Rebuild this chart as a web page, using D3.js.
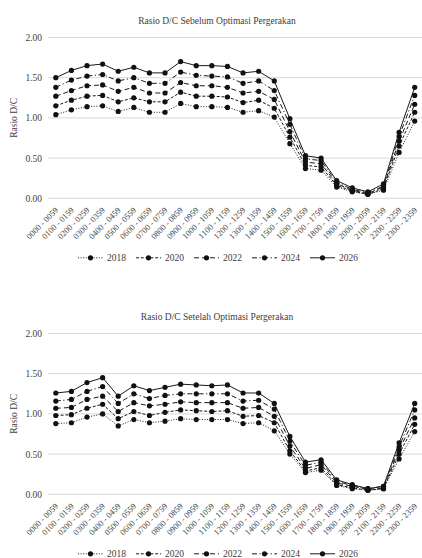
<!DOCTYPE html>
<html>
<head>
<meta charset="utf-8">
<script src="https://cdn.jsdelivr.net/npm/d3@7/dist/d3.min.js"></script>
<style>
  html, body { margin: 0; padding: 0; background: #fff; }
  svg { display: block; }
  svg text { font-family: "Liberation Serif", "Times New Roman", "DejaVu Serif", serif !important; fill: #404040; }
</style>
</head>
<body>
<svg id="chart" width="422" height="558"></svg>
<script>
// Hourly intervals on the x axis
const hours = ["0000 - 0059","0100 - 0159","0200 - 0259","0300 - 0359","0400 - 0459","0500 - 0559",
  "0600 - 0659","0700 - 0759","0800 - 0859","0900 - 0959","1000 - 1059","1100 - 1159",
  "1200 - 1259","1300 - 1359","1400 - 1459","1500 - 1559","1600 - 1659","1700 - 1759",
  "1800 - 1859","1900 - 1959","2000 - 2059","2100 - 2159","2200 - 2259","2300 - 2359"];

const years = ["2018", "2020", "2022", "2024", "2026"];
const yTicks = [0, 0.5, 1.0, 1.5, 2.0];

// D/C ratio before movement optimisation
const before2018 = [1.04,1.10,1.14,1.15,1.08,1.13,1.07,1.07,1.18,1.14,1.14,1.13,1.07,1.09,1.01,0.68,0.37,0.35,0.14,0.08,0.05,0.10,0.57,0.96];
const before2020 = [1.15,1.22,1.27,1.28,1.20,1.25,1.20,1.20,1.32,1.27,1.27,1.26,1.19,1.22,1.12,0.76,0.41,0.39,0.16,0.09,0.05,0.12,0.65,1.07];
const before2022 = [1.27,1.34,1.40,1.41,1.33,1.38,1.31,1.31,1.44,1.40,1.40,1.38,1.31,1.33,1.23,0.83,0.45,0.43,0.18,0.10,0.06,0.14,0.71,1.17];
const before2024 = [1.38,1.47,1.52,1.54,1.46,1.50,1.43,1.43,1.57,1.53,1.52,1.51,1.43,1.46,1.34,0.92,0.49,0.47,0.20,0.11,0.07,0.15,0.77,1.28];
const before2026 = [1.50,1.59,1.65,1.67,1.58,1.63,1.56,1.56,1.70,1.65,1.65,1.64,1.56,1.58,1.46,0.99,0.53,0.50,0.22,0.13,0.08,0.18,0.82,1.38];

// D/C ratio after movement optimisation
const after2018 = [0.88,0.89,0.96,1.00,0.85,0.93,0.89,0.91,0.94,0.93,0.93,0.93,0.88,0.89,0.79,0.50,0.27,0.30,0.11,0.07,0.05,0.07,0.44,0.78];
const after2020 = [0.98,0.99,1.07,1.12,0.94,1.03,0.98,1.02,1.05,1.04,1.03,1.04,0.97,0.98,0.89,0.54,0.29,0.33,0.12,0.08,0.05,0.07,0.50,0.87];
const after2022 = [1.07,1.08,1.18,1.22,1.03,1.14,1.10,1.12,1.15,1.14,1.14,1.14,1.07,1.08,0.97,0.60,0.32,0.37,0.14,0.10,0.06,0.08,0.55,0.95];
const after2024 = [1.16,1.18,1.28,1.34,1.13,1.25,1.19,1.23,1.25,1.25,1.25,1.25,1.16,1.17,1.06,0.66,0.36,0.40,0.16,0.11,0.07,0.10,0.59,1.05];
const after2026 = [1.26,1.28,1.39,1.45,1.22,1.35,1.29,1.33,1.37,1.36,1.35,1.36,1.26,1.26,1.13,0.72,0.40,0.43,0.18,0.12,0.07,0.10,0.64,1.13];

const beforeSeries = [before2018, before2020, before2022, before2024, before2026];
const afterSeries  = [after2018, after2020, after2022, after2024, after2026];

// line style per year
const dashes = { "2018": "1,1.6", "2020": "3,1.8", "2022": "5,3", "2024": "5,2.5,1.2,2.5", "2026": null };

const FONT = '"Liberation Serif", "Times New Roman", "DejaVu Serif", serif';

const svg = d3.select("#chart");
svg.append("rect").attr("width", 422).attr("height", 558).attr("fill", "#fff");

function drawPanel(top, title, series) {
  const g = svg.append("g").attr("transform", `translate(0,${top})`).attr("font-family", FONT);
  const x = d3.scaleBand().domain(hours).range([48, 422.5]);
  const y = d3.scaleLinear().domain([0, 2]).range([198.3, 37.5]);

  g.append("text").attr("x", 217).attr("y", 24)
    .attr("text-anchor", "middle").attr("font-size", 9.5).text(title);

  // gridlines
  g.append("g").selectAll("line").data(yTicks).join("line")
    .attr("x1", 48).attr("x2", 422)
    .attr("y1", d => y(d)).attr("y2", d => y(d))
    .attr("stroke", "#d9d9d9").attr("stroke-width", 1);

  // y axis labels
  const yAxis = d3.axisLeft(y).tickValues(yTicks).tickFormat(d3.format(".2f")).tickSize(0).tickPadding(6);
  const ya = g.append("g").attr("transform", "translate(48,0)").call(yAxis)
    .attr("font-family", FONT);
  ya.select(".domain").remove();
  ya.selectAll("text").attr("font-size", 9.5).attr("fill", "#404040");

  g.append("text").attr("transform", `translate(17,${(y(0) + y(2)) / 2}) rotate(-90)`)
    .attr("text-anchor", "middle").attr("font-size", 9.5).text("Rasio D/C");

  // x axis labels, slanted at 45 degrees
  const xAxis = d3.axisBottom(x).tickSize(0).tickPadding(0);
  const xa = g.append("g").attr("transform", `translate(0,${y(0)})`).call(xAxis)
    .attr("font-family", FONT);
  xa.select(".domain").remove();
  xa.selectAll("text").attr("font-size", 8.5).attr("fill", "#404040")
    .attr("text-anchor", "end")
    .attr("dy", null)
    .attr("transform", "translate(3,12.5) rotate(-45)");

  // series
  const line = d3.line().x((d, i) => x(hours[i]) + x.bandwidth() / 2).y(d => y(d));
  series.forEach((vals, k) => {
    const yr = years[k];
    g.append("path").datum(vals).attr("d", line)
      .attr("fill", "none").attr("stroke", "#1a1a1a").attr("stroke-width", 1)
      .attr("stroke-dasharray", dashes[yr]);
  });
  series.forEach((vals) => {
    g.append("g").selectAll("circle").data(vals).join("circle")
      .attr("cx", (d, i) => x(hours[i]) + x.bandwidth() / 2)
      .attr("cy", d => y(d)).attr("r", 2.6).attr("fill", "#111");
  });

  // legend
  const lg = g.append("g").attr("transform", `translate(0,${y(0) + 59.5})`);
  years.forEach((yr, k) => {
    const x0 = 78 + k * 58;
    lg.append("line").attr("x1", x0).attr("x2", x0 + 25).attr("y1", 0).attr("y2", 0)
      .attr("stroke", "#1a1a1a").attr("stroke-width", 1).attr("stroke-dasharray", dashes[yr]);
    lg.append("circle").attr("cx", x0 + 12.5).attr("cy", 0).attr("r", 2.6).attr("fill", "#111");
    lg.append("text").attr("x", x0 + 29).attr("y", 3.3).attr("font-size", 9.5).text(yr);
  });
}

drawPanel(0, "Rasio D/C Sebelum Optimasi Pergerakan", beforeSeries);
drawPanel(296, "Rasio D/C Setelah Optimasi Pergerakan", afterSeries);
</script>
</body>
</html>
